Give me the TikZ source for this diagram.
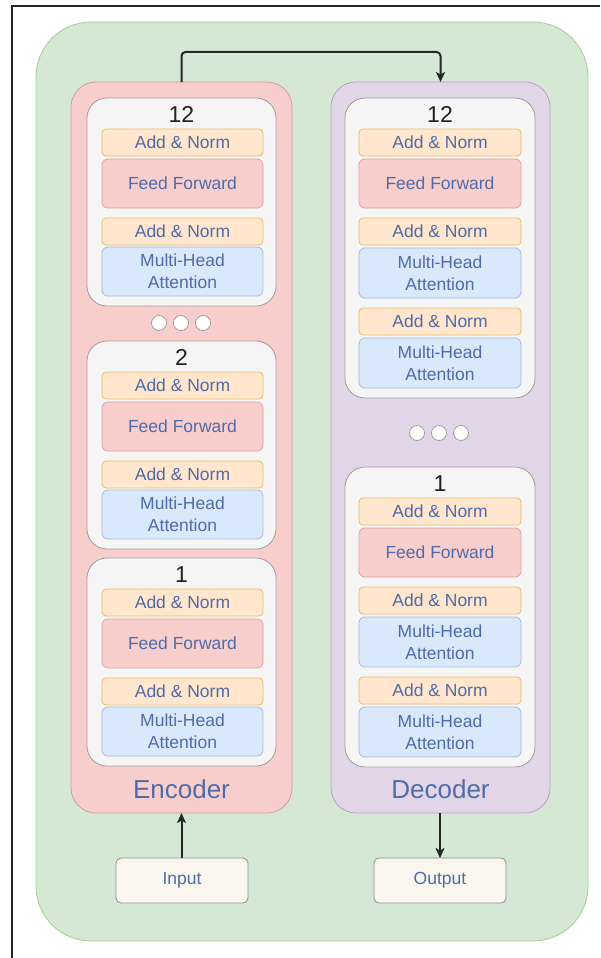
\documentclass[tikz,border=0pt]{standalone}
\usepackage{fontspec}
\setmainfont{Liberation Sans}
\usetikzlibrary{arrows.meta}

\definecolor{outerfill}{HTML}{D5E8D4}
\definecolor{outerline}{HTML}{A9CC96}
\definecolor{encfill}{HTML}{F8CECC}
\definecolor{encline}{HTML}{D99A98}
\definecolor{decfill}{HTML}{E1D5E7}
\definecolor{decline}{HTML}{B7A2C4}
\definecolor{layerfill}{HTML}{F5F5F5}
\definecolor{layerline}{HTML}{9E9E9E}
\definecolor{normfill}{HTML}{FFE6CC}
\definecolor{normline}{HTML}{E8BE6A}
\definecolor{attnfill}{HTML}{DAE8FC}
\definecolor{attnline}{HTML}{A3BCE0}
\definecolor{fffill}{HTML}{F8CECC}
\definecolor{ffline}{HTML}{DDA3A1}
\definecolor{iofill}{HTML}{F9F7ED}
\definecolor{ioline}{HTML}{8E8F92}
\definecolor{labeltext}{HTML}{506BA9}
\definecolor{numtext}{HTML}{222222}

% generic rectangle placed by its top-left corner
\newcommand\blk[7]{\node[#1, minimum width=#5pt, minimum height=#6pt] (#2) at (#3,#4) {#7};}

% one encoder layer: name, top edge, layer number
\newcommand\enclayer[3]{%
  \blk{layer}{#1}{87}{#2}{189}{208}{}
  \node[num] (#1-n) at (181.5,#2+16.5) {#3};
  \blk{norm}{#1-an1}{102}{#2+31}{161}{27}{Add \& Norm}
  \blk{ff}{#1-ff}{102}{#2+61}{161}{49}{Feed Forward}
  \blk{norm}{#1-an2}{102}{#2+120}{161}{27}{Add \& Norm}
  \blk{attn}{#1-mha}{102}{#2+149}{161}{49}{Multi-Head\\Attention}
}

% one decoder layer: name, top edge, layer number
\newcommand\declayer[3]{%
  \blk{layer}{#1}{345}{#2}{190}{300}{}
  \node[num] (#1-n) at (440,#2+16.5) {#3};
  \blk{norm}{#1-an1}{359}{#2+31}{162}{27}{Add \& Norm}
  \blk{ff}{#1-ff}{359}{#2+61}{162}{49}{Feed Forward}
  \blk{norm}{#1-an2}{359}{#2+120}{162}{27}{Add \& Norm}
  \blk{attn}{#1-mha}{359}{#2+150}{162}{50}{Multi-Head\\Attention}
  \blk{norm}{#1-an3}{359}{#2+210}{162}{27}{Add \& Norm}
  \blk{attn}{#1-mha2}{359}{#2+240}{162}{50}{Multi-Head\\Attention}
}

\tikzset{
  base/.style={anchor=north west, inner sep=0pt, outer sep=0pt, line width=0.8pt,
    align=center, text=labeltext, font=\fontsize{17.5}{22}\selectfont},
  outer/.style={base, fill=outerfill, draw=outerline, rounded corners=55pt},
  encoder/.style={base, fill=encfill, draw=encline, rounded corners=25pt},
  decoder/.style={base, fill=decfill, draw=decline, rounded corners=25pt},
  layer/.style={base, fill=layerfill, draw=layerline, rounded corners=20pt},
  norm/.style={base, fill=normfill, draw=normline, rounded corners=4pt},
  ff/.style={base, fill=fffill, draw=ffline, rounded corners=6pt},
  attn/.style={base, fill=attnfill, draw=attnline, rounded corners=6pt},
  io/.style={base, fill=iofill, draw=ioline, rounded corners=5pt},
  num/.style={inner sep=0pt, text=numtext, font=\fontsize{23}{26}\selectfont},
  title/.style={inner sep=0pt, text=labeltext, font=\fontsize{26}{30}\selectfont},
  dot/.style={circle, fill=white, draw=layerline, line width=0.8pt, minimum size=15pt, inner sep=0pt},
  flow/.style={line width=2pt, draw=black!85, rounded corners=4pt,
    -{Stealth[length=10pt, width=9pt, inset=2.5pt]}},
}

\begin{document}
\begin{tikzpicture}[x=1pt, y=-1pt]
  \useasboundingbox (0,0) rectangle (600,958);
  \fill[white] (0,0) rectangle (600,958);

  % page frame
  \draw[line width=1.8pt, black!85] (12,958) -- (12,6) -- (600,6);

  % outer container
  \blk{outer}{model}{36}{22}{552}{919}{}

  % encoder and decoder stacks
  \blk{encoder}{enc}{71}{82}{221}{731}{}
  \blk{decoder}{dec}{331}{82}{219}{731}{}
  \node[title] (enc-title) at (181.5,789) {Encoder};
  \node[title] (dec-title) at (440.5,789) {Decoder};

  % encoder layers
  \enclayer{e12}{98}{12}
  \enclayer{e2}{341}{2}
  \enclayer{e1}{558}{1}
  \node[dot] (ed1) at (159,323) {};
  \node[dot] (ed2) at (181,323) {};
  \node[dot] (ed3) at (203,323) {};

  % decoder layers
  \declayer{d12}{98}{12}
  \declayer{d1}{467}{1}
  \node[dot] (dd1) at (417,433) {};
  \node[dot] (dd2) at (439,433) {};
  \node[dot] (dd3) at (461,433) {};

  % input and output
  \blk{io}{input}{116}{858}{132}{45}{Input}
  \blk{io}{output}{374}{858}{132}{45}{Output}

  % data flow
  \draw[flow] (input.north -| enc.south) -- (enc.south);
  \draw[flow] (dec.south -| output.north) -- (output.north);
  \draw[flow] (enc.north) -- ++(0,-30) -| (dec.north);
\end{tikzpicture}
\end{document}
